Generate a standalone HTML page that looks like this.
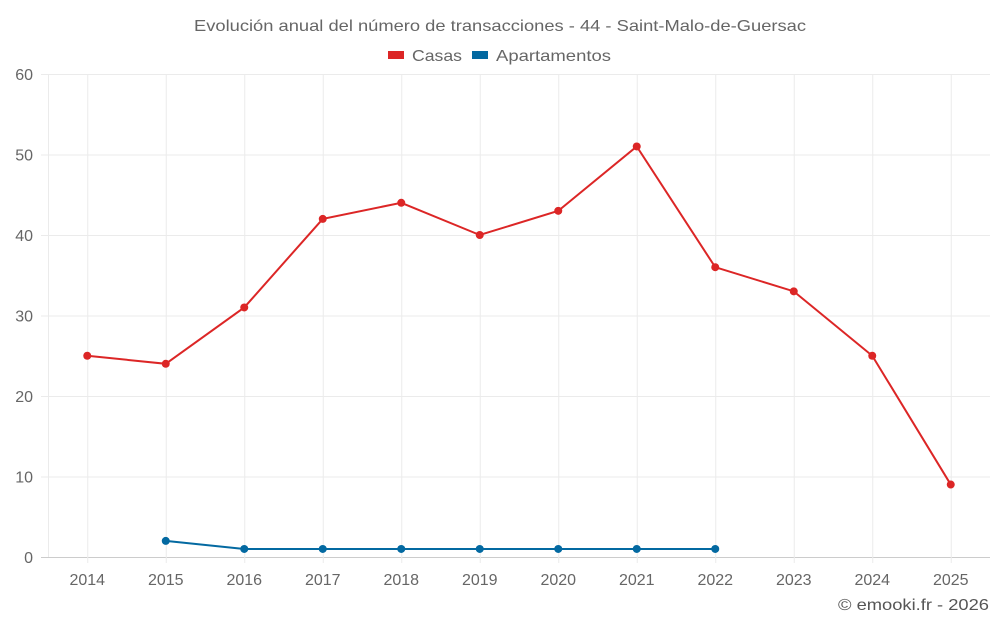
<!DOCTYPE html>
<html><head><meta charset="utf-8"><style>
html,body{margin:0;padding:0;background:#fff;}
svg{display:block;font-family:"Liberation Sans",sans-serif;}
</style></head><body>
<svg id="chart" width="1000" height="625" xmlns="http://www.w3.org/2000/svg">
<text x="194" y="31" textLength="612" lengthAdjust="spacingAndGlyphs" font-size="16" fill="#666">Evolución anual del número de transacciones - 44 - Saint-Malo-de-Guersac</text>
<g>
<g><rect x="388" y="51" width="16" height="8" fill="#dc2626"/><text x="412" y="61" textLength="50" lengthAdjust="spacingAndGlyphs" font-size="16" fill="#666">Casas</text></g>
<g><rect x="472" y="51" width="16" height="8" fill="#0369a1"/><text x="496" y="61" textLength="115" lengthAdjust="spacingAndGlyphs" font-size="16" fill="#666">Apartamentos</text></g>
</g>
<g id="grid"></g>
<g id="axes"></g>
<g id="series"></g>
<text x="838" y="610" textLength="151" lengthAdjust="spacingAndGlyphs" font-size="16" fill="#555">© emooki.fr - 2026</text>
</svg>
<script>
const categories = ['2014','2015','2016','2017','2018','2019','2020','2021','2022','2023','2024','2025'];
const casas = [25,24,31,42,44,40,43,51,36,33,25,9];
const apartamentos = [null,2,1,1,1,1,1,1,1,null,null,null];
const yTicks = [0,10,20,30,40,50,60];

const NS='http://www.w3.org/2000/svg';
const L=48,R=990,T=74,B=557,yMax=60;
const band=(R-L)/categories.length;
const x=i=>L+band*(i+0.5);
const y=v=>B-(v/yMax)*(B-T);
function mk(tag,attrs,parent,text){const e=document.createElementNS(NS,tag);for(const k in attrs)e.setAttribute(k,attrs[k]);if(text!=null)e.textContent=text;parent.appendChild(e);return e;}
const grid=document.getElementById('grid'),axes=document.getElementById('axes'),series=document.getElementById('series');
yTicks.forEach(t=>{
  const ln=mk('line',{x1:41,x2:R,y1:y(t)+0.5,y2:y(t)+0.5,stroke:t===0?'#ccc':'#ebebeb','stroke-width':1},grid);
  
  
  const tx=mk('text',{x:33,y:y(t)+6,'text-anchor':'end','font-size':16,fill:'#666'},axes,t);
  
  
});
const vl=mk('line',{x1:L+0.5,x2:L+0.5,y1:T,y2:B,stroke:'#ebebeb'},grid);


categories.forEach((c,i)=>{
  const ln=mk('line',{x1:x(i)+0.5,x2:x(i)+0.5,y1:T,y2:B+6,stroke:'#ebebeb'},grid);
  
  
  const tx=mk('text',{x:x(i),y:585,'text-anchor':'middle','font-size':16,fill:'#666'},axes,c);
  
  
});
function drawSeries(vals,color,name){
  const g=mk('g',{},series);
  
  
  const pts=[];vals.forEach((v,i)=>{if(v!=null)pts.push([x(i),y(v)]);});
  const p=mk('polyline',{points:pts.map(p=>p.join(',')).join(' '),fill:'none',stroke:color,'stroke-width':2},g);
  
  
  vals.forEach((v,i)=>{if(v==null)return;
    const c=mk('circle',{cx:x(i),cy:y(v),r:4,fill:color},g);
    
    
  });
}
drawSeries(casas,'#dc2626','casas');
drawSeries(apartamentos,'#0369a1','apartamentos');
</script>
</body></html>
